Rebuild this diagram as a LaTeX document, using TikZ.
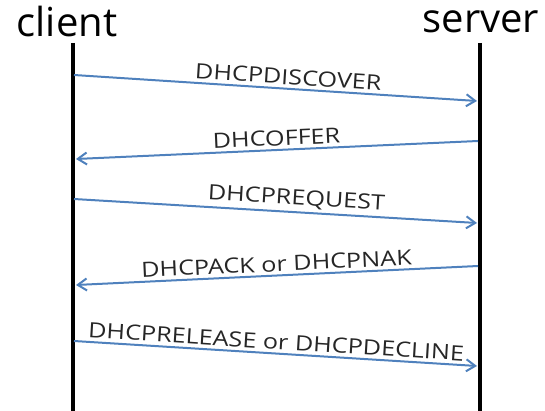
\documentclass[tikz,border=0pt]{standalone}
\usepackage{fontspec}
\setmainfont{Open Sans}
\usetikzlibrary{arrows.meta}
\definecolor{msgblue}{RGB}{79,129,189}
\newcommand{\widetext}[1]{\scalebox{1.2}[1]{#1}}
\tikzset{
  lifeline/.style={line width=3.5pt},
  msg/.style={msgblue, line width=2pt, -{Straight Barb[length=9pt,width=12pt,line width=2pt]}},
  msglabel/.style={sloped, above, inner sep=3pt, font=\fontsize{21}{21}\selectfont, text=black!85},
  role/.style={font=\fontsize{40}{40}\selectfont, inner sep=0pt}
}
\begin{document}
\begin{tikzpicture}[x=1pt,y=-1pt]
\useasboundingbox (0,0) rectangle (545,411);
\node[role] (client) at (67,22) {client};
\node[role] (server) at (481,22) {server};
\coordinate (ctop) at (73,43);
\coordinate (cbot) at (73,411);
\coordinate (stop) at (480,43);
\coordinate (sbot) at (480,411);
\draw[lifeline] (ctop) -- (cbot);
\draw[lifeline] (stop) -- (sbot);
\coordinate (c1) at (74,75);  \coordinate (s1) at (477,101);
\coordinate (s2) at (478,141); \coordinate (c2) at (76,159);
\coordinate (c3) at (74,199);  \coordinate (s3) at (477,223);
\coordinate (s4) at (478,266); \coordinate (c4) at (76,285);
\coordinate (c5) at (74,341);  \coordinate (s5) at (477,366);
\draw[msg] (c1) -- node[msglabel, pos=0.53] (l1) {\widetext{DHCPDISCOVER}} (s1);
\draw[msg] (s2) -- node[msglabel, pos=0.5] (l2) {\widetext{DHCOFFER}} (c2);
\draw[msg] (c3) -- node[msglabel, pos=0.55] (l3) {\widetext{DHCPREQUEST}} (s3);
\draw[msg] (s4) -- node[msglabel, pos=0.5] (l4) {\widetext{DHCPACK or DHCPNAK}} (c4);
\draw[msg] (c5) -- node[msglabel, pos=0.5] (l5) {\widetext{DHCPRELEASE or DHCPDECLINE}} (s5);
\end{tikzpicture}
\end{document}
